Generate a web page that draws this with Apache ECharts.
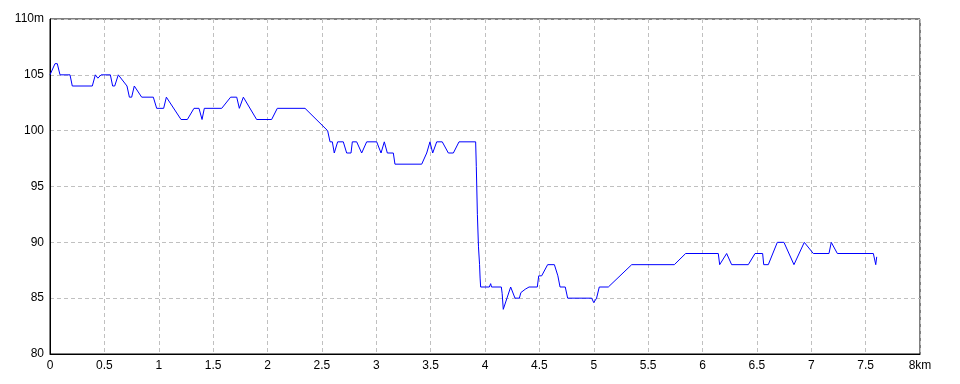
<!DOCTYPE html>
<html><head><meta charset="utf-8">
<script src="https://cdn.jsdelivr.net/npm/echarts@6/dist/echarts.min.js"></script>
<style>html,body{margin:0;padding:0;background:#fff}#c{width:960px;height:384px}</style>
</head><body><div id="c"></div>
<script>
const distKm = [0,0.046,0.067,0.092,0.184,0.205,0.389,0.417,0.44,0.47,0.555,0.576,0.595,0.628,0.708,0.73,0.751,0.775,0.843,0.95,0.981,1.045,1.07,1.205,1.263,1.324,1.37,1.398,1.419,1.579,1.661,1.717,1.741,1.778,1.9,2.038,2.09,2.345,2.553,2.575,2.596,2.614,2.645,2.697,2.728,2.768,2.78,2.82,2.866,2.912,3.004,3.044,3.074,3.102,3.157,3.172,3.418,3.464,3.494,3.519,3.556,3.607,3.663,3.709,3.761,3.914,3.92,3.93,3.94,3.95,3.955,3.96,4.04,4.052,4.06,4.15,4.158,4.168,4.236,4.276,4.316,4.33,4.37,4.405,4.481,4.494,4.521,4.576,4.638,4.67,4.69,4.738,4.76,4.981,5.0,5.026,5.051,5.134,5.349,5.741,5.845,6.145,6.158,6.222,6.268,6.421,6.483,6.553,6.563,6.605,6.688,6.749,6.841,6.936,7.019,7.163,7.184,7.24,7.571,7.593,7.602];
const elevM = [105,106,106,105,105,104,104,105,104.7,105,105,104,104,105,104,103,103,104,103,103,102,102,103,101,101,102,102,101,102,102,103,103,102,103,101,101,102,102,100,99,99,98,99,99,98,98,99,99,98,99,99,98,99,98,98,97,97,98,99,98,99,99,98,98,99,99,96.8,92.5,89.6,88,86.8,86,86,86.3,86,86,85.4,84,86,85,85,85.5,85.8,86,86,87,87,88,88,87,86,86,85,85,84.6,85,86,86,88,88,89,89,88,89,88,88,89,89,88,88,90,90,88,90,89,89,90,89,89,88,88.7];
const xTickUnit = 'km';
const yTickUnit = 'm';

const data = distKm.map((d, i) => [d, elevM[i]]);
const chart = echarts.init(document.getElementById('c'), null, {renderer: 'canvas'});
const font = {color: '#000', fontSize: 12, fontFamily: "'Liberation Sans Narrow', 'Liberation Sans', sans-serif"};
chart.setOption({
  animation: false,
  backgroundColor: '#fff',
  grid: {left: 50, right: 40, top: 19, bottom: 30, show: true, borderColor: '#000', borderWidth: 1, backgroundColor: 'transparent'},
  xAxis: {
    type: 'value', min: 0, max: 8, interval: 0.5,
    axisLine: {show: true, lineStyle: {color: '#000'}},
    axisTick: {show: false},
    axisLabel: Object.assign({margin: 6, formatter: v => v === 8 ? '8' + xTickUnit : String(v)}, font),
    splitLine: {show: true, lineStyle: {color: '#c0c0c0', type: [4, 3], width: 1}}
  },
  yAxis: {
    type: 'value', min: 80, max: 110, interval: 5,
    axisLine: {show: true, lineStyle: {color: '#000'}},
    axisTick: {show: false},
    axisLabel: Object.assign({margin: 6, formatter: v => v === 110 ? '110' + yTickUnit : String(v)}, font),
    splitLine: {show: true, lineStyle: {color: '#c0c0c0', type: [4, 3], width: 1}}
  },
  series: [{
    type: 'line', data: data, showSymbol: false, smooth: false,
    lineStyle: {color: '#0000ff', width: 1}, itemStyle: {color: '#0000ff'}
  }]
});
</script></body></html>
